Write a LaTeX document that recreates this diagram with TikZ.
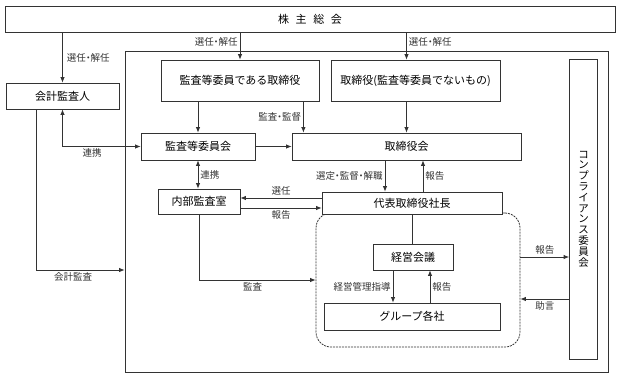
\documentclass[tikz,border=0pt]{standalone}
\usepackage{fontspec}
\setmainfont{Noto Sans CJK JP}
\usetikzlibrary{positioning,arrows.meta,calc}
\definecolor{govline}{HTML}{333333}
\newcommand{\mdot}{\kern-0.25em・\kern-0.25em}

\begin{document}
\begin{tikzpicture}[x=1pt,y=-1pt,
  box/.style={draw=govline,line width=0.8pt,fill=white,font=\fontsize{11}{13}\selectfont,inner sep=0pt},
  lbl/.style={font=\fontsize{9.5}{11}\selectfont,inner sep=2pt},
  arr/.style={-{Latex[length=5.5pt,width=4.5pt]},govline,line width=0.8pt},
  biarr/.style={{Latex[length=5.5pt,width=4.5pt]}-{Latex[length=5.5pt,width=4.5pt]},govline,line width=0.8pt}
]
\useasboundingbox (0,0) rectangle (619,378);

% frames
\node[draw=govline,line width=0.8pt,minimum width=483pt,minimum height=321pt] (frame) at (366.5,211.5) {};
\node[draw=govline,line width=0.8pt,dash pattern=on 2pt off 1pt,rounded corners=15pt,minimum width=204pt,minimum height=134pt] (mgmt) at (418,280) {};

% boxes
\node[box,minimum width=610pt,minimum height=26pt] (gm) at (310,19) {株\hspace{0.6em}主\hspace{0.6em}総\hspace{0.6em}会};
\node[box,minimum width=113pt,minimum height=26pt] (auditor) at (62.5,96) {会計監査人};
\node[box,minimum width=158pt,minimum height=41pt] (acdir) at (240,80.5) {監査等委員である取締役};
\node[box,minimum width=169pt,minimum height=41pt] (dir) at (415.5,80.5) {取締役(監査等委員でないもの)};
\node[box,minimum width=114pt,minimum height=27pt] (acc) at (198,146.5) {監査等委員会};
\node[box,minimum width=229pt,minimum height=27pt] (board) at (406.5,146.5) {取締役会};
\node[box,minimum width=82pt,minimum height=25pt] (ia) at (199,201.5) {内部監査室};
\node[box,minimum width=180pt,minimum height=22pt] (ceo) at (412,203) {代表取締役社長};
\node[box,minimum width=80pt,minimum height=26pt] (mc) at (413,257) {経営会議};
\node[box,minimum width=176pt,minimum height=27pt] (grp) at (412,316.5) {グループ各社};
\node[box,minimum width=28pt,minimum height=300pt,align=center,font=\fontsize{10.5}{10.8}\selectfont] (comp) at (583.5,209) {コ\\ン\\プ\\ラ\\イ\\ア\\ン\\ス\\委\\員\\会};

% helper points
\coordinate (sup) at ([xshift=-16pt]acdir.south east);
\coordinate (selA) at ([yshift=5pt]ceo.west);
\coordinate (repB) at ([yshift=-5pt]ceo.west);
\coordinate (apt) at ([xshift=-21.5pt]board.south);
\coordinate (rpt) at ([xshift=11pt]ceo.north);
\coordinate (gd) at ([xshift=-20pt]mc.south);
\coordinate (gr) at ([xshift=18pt]grp.north);
\coordinate (adv) at (comp.west |- 0,299);
\coordinate (aud) at ([xshift=-26.5pt]auditor.south);

% connectors
\draw[arr] (gm.south -| auditor) -- node[lbl,right,xshift=2pt] {選任\mdot 解任} (auditor.north);
\draw[arr] (gm.south -| acdir) -- node[lbl,left,pos=0.35] {選任\mdot 解任} (acdir.north);
\draw[arr] (gm.south -| board) -- node[lbl,right,pos=0.35] {選任\mdot 解任} (dir.north -| board);
\draw[arr] (dir.south -| board) -- (board.north);
\draw[arr] (acdir.south -| acc) -- (acc.north);
\draw[arr] (sup) -- node[lbl,left] {監査\mdot 監督} (sup |- board.north);
\draw[arr] (acc) -- (board);
\draw[biarr] (auditor.south) |- node[lbl,below,pos=0.69] {連携} (acc.west);
\draw[biarr] (acc.south) -- node[lbl,right] {連携} (acc.south |- ia.north);
\draw[arr] (selA) -- node[lbl,above] {選任} (selA -| ia.east);
\draw[arr] (repB -| ia.east) -- node[lbl,below] {報告} (repB);
\draw[arr] (apt) -- node[lbl,left] {選定\mdot 監督\mdot 解職} (apt |- ceo.north);
\draw[arr] (rpt) -- node[lbl,right] {報告} (rpt |- board.south);
\draw[govline,line width=0.8pt] (ceo.south) -- (ceo.south |- mc.north);
\draw[arr] (gd) -- node[lbl,left] {経営管理指導} (gd |- grp.north);
\draw[arr] (gr) -- node[lbl,right] {報告} (gr |- mc.south);
\draw[arr] (mgmt.east |- mc) -- node[lbl,above] {報告} (comp.west |- mc);
\draw[arr] (adv) -- node[lbl,below] {助言} (adv -| mgmt.east);
\draw[arr] (aud) |- node[lbl,below,pos=0.71] {会計監査} (frame.west |- 0,270);
\draw[arr] (ia.south) |- node[lbl,below,pos=0.73] {監査} (mgmt.west);
\end{tikzpicture}
\end{document}
